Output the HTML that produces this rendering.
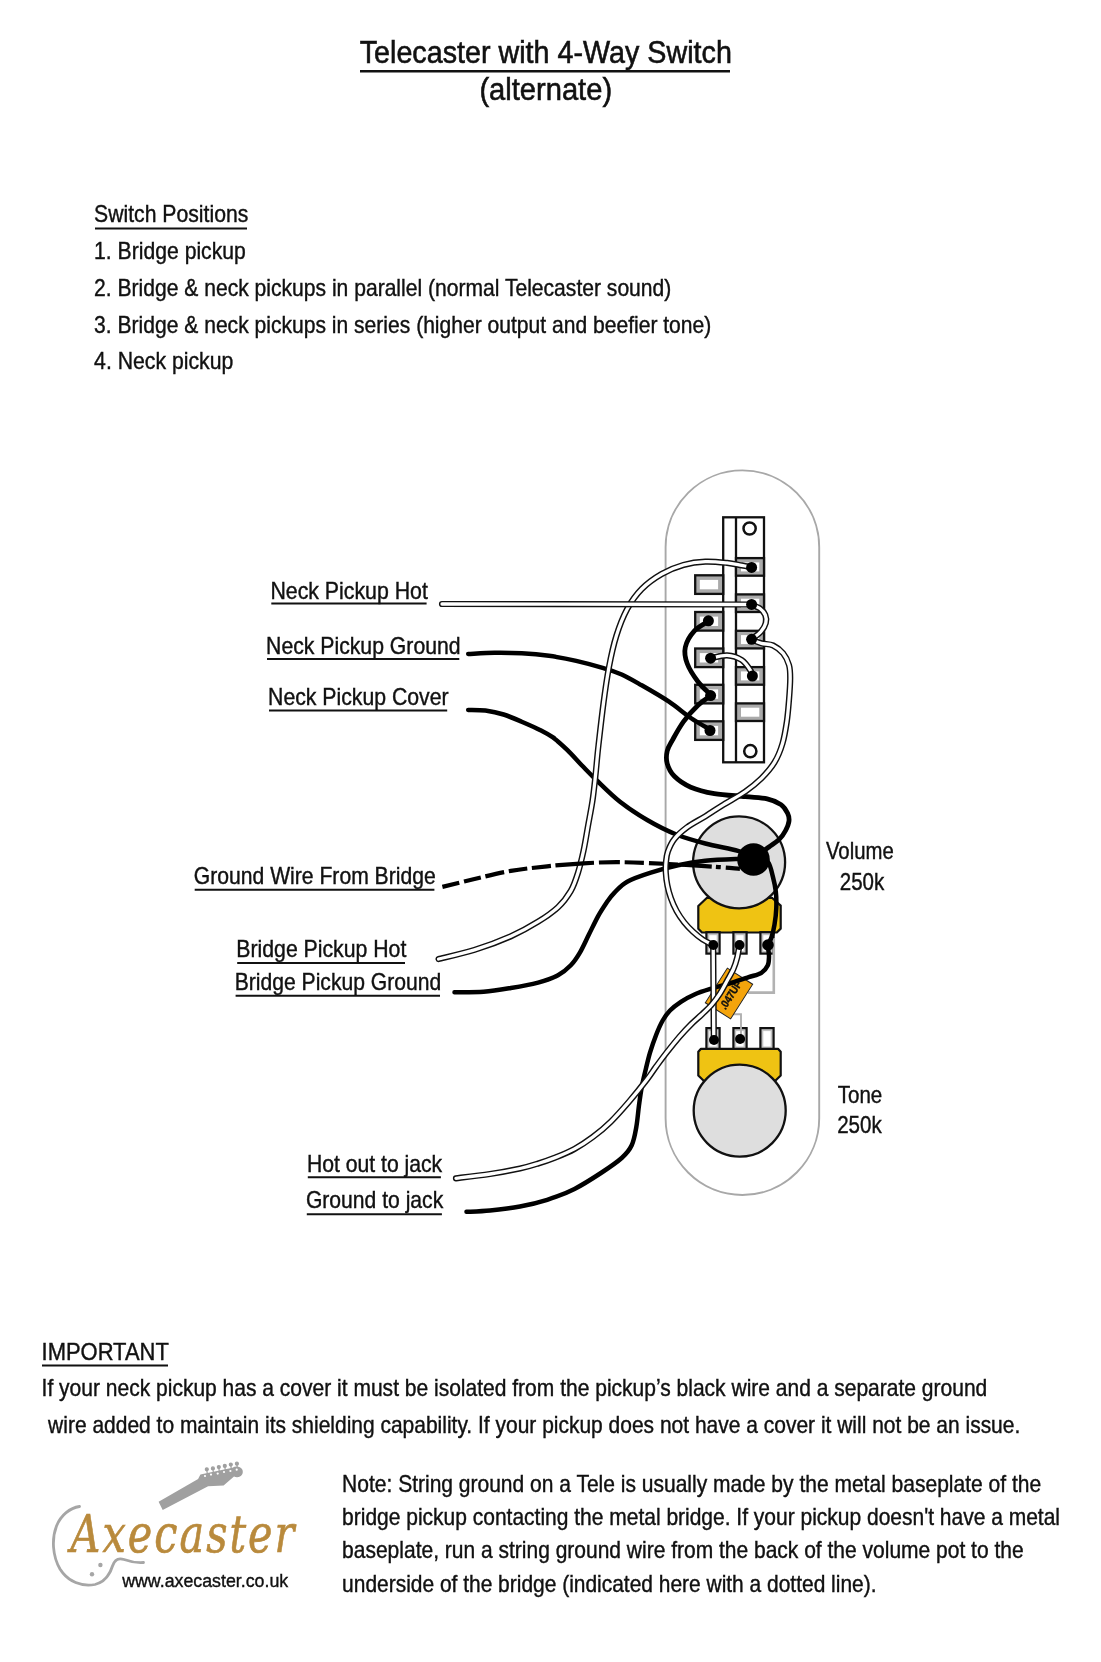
<!DOCTYPE html>
<html><head><meta charset="utf-8"><title>Telecaster with 4-Way Switch (alternate)</title>
<style>
html,body{margin:0;padding:0;background:#fff;}
svg{display:block;font-family:'Liberation Sans', Arial, sans-serif;fill:#111;}
text{stroke:#111;stroke-width:.4px;}
</style></head><body>
<svg width="1101" height="1662" viewBox="0 0 1101 1662" style="will-change:transform">
<text x="359.7" y="63.0" font-size="31.6" textLength="372.2" lengthAdjust="spacingAndGlyphs" text-anchor="start" style="stroke-width:.6px">Telecaster with 4-Way Switch</text>
<line x1="360.0" y1="71.3" x2="730.0" y2="71.3" stroke="#111" stroke-width="2.5"/>
<text x="479.4" y="100.0" font-size="31.6" textLength="132.7" lengthAdjust="spacingAndGlyphs" text-anchor="start" style="stroke-width:.6px">(alternate)</text>
<text x="94.1" y="222.4" font-size="23.4" textLength="154.2" lengthAdjust="spacingAndGlyphs" text-anchor="start" >Switch Positions</text>
<line x1="95.0" y1="228.6" x2="247.0" y2="228.6" stroke="#111" stroke-width="2"/>
<text x="94.1" y="259.3" font-size="23.4" textLength="151.7" lengthAdjust="spacingAndGlyphs" text-anchor="start" >1. Bridge pickup</text>
<text x="94.1" y="295.6" font-size="23.4" textLength="577.2" lengthAdjust="spacingAndGlyphs" text-anchor="start" >2. Bridge &amp; neck pickups in parallel (normal Telecaster sound)</text>
<text x="94.1" y="332.8" font-size="23.4" textLength="617.2" lengthAdjust="spacingAndGlyphs" text-anchor="start" >3. Bridge &amp; neck pickups in series (higher output and beefier tone)</text>
<text x="94.1" y="369.0" font-size="23.4" textLength="139.2" lengthAdjust="spacingAndGlyphs" text-anchor="start" >4. Neck pickup</text>
<text x="270.4" y="598.6" font-size="23.4" textLength="157.5" lengthAdjust="spacingAndGlyphs" text-anchor="start" >Neck Pickup Hot</text>
<line x1="271.3" y1="603.6" x2="426.6" y2="603.6" stroke="#111" stroke-width="2"/>
<text x="266.1" y="654.2" font-size="23.4" textLength="194.5" lengthAdjust="spacingAndGlyphs" text-anchor="start" >Neck Pickup Ground</text>
<line x1="267.0" y1="659.0" x2="459.3" y2="659.0" stroke="#111" stroke-width="2"/>
<text x="268.1" y="705.2" font-size="23.4" textLength="180.4" lengthAdjust="spacingAndGlyphs" text-anchor="start" >Neck Pickup Cover</text>
<line x1="269.0" y1="710.5" x2="447.2" y2="710.5" stroke="#111" stroke-width="2"/>
<text x="193.8" y="884.1" font-size="23.4" textLength="241.9" lengthAdjust="spacingAndGlyphs" text-anchor="start" >Ground Wire From Bridge</text>
<line x1="194.7" y1="889.8" x2="434.4" y2="889.8" stroke="#111" stroke-width="2"/>
<text x="236.3" y="957.1" font-size="23.4" textLength="170.0" lengthAdjust="spacingAndGlyphs" text-anchor="start" >Bridge Pickup Hot</text>
<line x1="237.2" y1="963.0" x2="405.0" y2="963.0" stroke="#111" stroke-width="2"/>
<text x="234.7" y="989.8" font-size="23.4" textLength="206.6" lengthAdjust="spacingAndGlyphs" text-anchor="start" >Bridge Pickup Ground</text>
<line x1="235.6" y1="995.8" x2="440.0" y2="995.8" stroke="#111" stroke-width="2"/>
<text x="306.9" y="1171.7" font-size="23.4" textLength="135.3" lengthAdjust="spacingAndGlyphs" text-anchor="start" >Hot out to jack</text>
<line x1="307.8" y1="1177.3" x2="440.9" y2="1177.3" stroke="#111" stroke-width="2"/>
<text x="305.9" y="1208.3" font-size="23.4" textLength="137.3" lengthAdjust="spacingAndGlyphs" text-anchor="start" >Ground to jack</text>
<line x1="306.8" y1="1214.3" x2="441.9" y2="1214.3" stroke="#111" stroke-width="2"/>
<text x="825.9" y="859.3" font-size="23.4" textLength="67.8" lengthAdjust="spacingAndGlyphs" text-anchor="start" >Volume</text>
<text x="839.8" y="889.5" font-size="23.4" textLength="44.5" lengthAdjust="spacingAndGlyphs" text-anchor="start" >250k</text>
<text x="837.8" y="1102.5" font-size="23.4" textLength="44.5" lengthAdjust="spacingAndGlyphs" text-anchor="start" >Tone</text>
<text x="837.2" y="1133.0" font-size="23.4" textLength="44.6" lengthAdjust="spacingAndGlyphs" text-anchor="start" >250k</text>
<text x="41.6" y="1360.0" font-size="23.4" textLength="127.2" lengthAdjust="spacingAndGlyphs" text-anchor="start" >IMPORTANT</text>
<line x1="42.0" y1="1365.6" x2="168.0" y2="1365.6" stroke="#111" stroke-width="2"/>
<text x="41.6" y="1396.0" font-size="23.4" textLength="945.7" lengthAdjust="spacingAndGlyphs" text-anchor="start" >If your neck pickup has a cover it must be isolated from the pickup’s black wire and a separate ground</text>
<text x="48.1" y="1432.5" font-size="23.4" textLength="972.2" lengthAdjust="spacingAndGlyphs" text-anchor="start" >wire added to maintain its shielding capability. If your pickup does not have a cover it will not be an issue.</text>
<text x="342.1" y="1492.2" font-size="23.4" textLength="699.0" lengthAdjust="spacingAndGlyphs" text-anchor="start" >Note: String ground on a Tele is usually made by the metal baseplate of the</text>
<text x="342.1" y="1524.6" font-size="23.4" textLength="717.9" lengthAdjust="spacingAndGlyphs" text-anchor="start" >bridge pickup contacting the metal bridge. If your pickup doesn't have a metal</text>
<text x="342.1" y="1558.0" font-size="23.4" textLength="681.5" lengthAdjust="spacingAndGlyphs" text-anchor="start" >baseplate, run a string ground wire from the back of the volume pot to the</text>
<text x="342.1" y="1591.7" font-size="23.4" textLength="534.4" lengthAdjust="spacingAndGlyphs" text-anchor="start" >underside of the bridge (indicated here with a dotted line).</text>
<rect x="665.6" y="470.4" width="153.6" height="724.6" rx="76.8" ry="76.8" fill="#fff" stroke="#a8a8a8" stroke-width="1.9"/>
<rect x="723.2" y="517.3" width="40.8" height="245" fill="#fff" stroke="#111" stroke-width="2.3"/>
<line x1="736" y1="517.3" x2="736" y2="762.3" stroke="#111" stroke-width="2.3"/>
<circle cx="749.6" cy="528.5" r="6.1" fill="#fff" stroke="#111" stroke-width="2.5"/>
<circle cx="750.3" cy="751.2" r="6.1" fill="#fff" stroke="#111" stroke-width="2.5"/>
<rect x="736" y="558.1" width="28" height="17.6" fill="#aaa" stroke="#111" stroke-width="2.3"/>
<rect x="741" y="562.4" width="18.3" height="9" fill="#fff"/>
<rect x="736" y="594.4" width="28" height="17.6" fill="#aaa" stroke="#111" stroke-width="2.3"/>
<rect x="741" y="598.7" width="18.3" height="9" fill="#fff"/>
<rect x="736" y="630.8" width="28" height="17.6" fill="#aaa" stroke="#111" stroke-width="2.3"/>
<rect x="741" y="635.1" width="18.3" height="9" fill="#fff"/>
<rect x="736" y="667.1" width="28" height="17.6" fill="#aaa" stroke="#111" stroke-width="2.3"/>
<rect x="741" y="671.4" width="18.3" height="9" fill="#fff"/>
<rect x="736" y="703.4" width="28" height="17.6" fill="#aaa" stroke="#111" stroke-width="2.3"/>
<rect x="741" y="707.7" width="18.3" height="9" fill="#fff"/>
<rect x="695.2" y="575.3" width="28" height="18.6" fill="#aaa" stroke="#111" stroke-width="2.3"/>
<rect x="699.8" y="579.9" width="18.3" height="9.4" fill="#fff"/>
<rect x="695.2" y="612.0" width="28" height="18.6" fill="#aaa" stroke="#111" stroke-width="2.3"/>
<rect x="699.8" y="616.6" width="18.3" height="9.4" fill="#fff"/>
<rect x="695.2" y="648.5" width="28" height="18.6" fill="#aaa" stroke="#111" stroke-width="2.3"/>
<rect x="699.8" y="653.1" width="18.3" height="9.4" fill="#fff"/>
<rect x="695.2" y="684.8" width="28" height="18.6" fill="#aaa" stroke="#111" stroke-width="2.3"/>
<rect x="699.8" y="689.4" width="18.3" height="9.4" fill="#fff"/>
<rect x="695.2" y="721.3" width="28" height="18.6" fill="#aaa" stroke="#111" stroke-width="2.3"/>
<rect x="699.8" y="725.9" width="18.3" height="9.4" fill="#fff"/>
<path d="M707,897.8 L772,897.8 L780.7,905.6 L780.7,928.6 L776.8,932.5 L702,932.5 L698.3,928.8 L698.3,906 Z" fill="#efc313" stroke="#111" stroke-width="2.2" stroke-linejoin="round"/>
<circle cx="739.1" cy="862.3" r="46" fill="#dedede" stroke="#111" stroke-width="2.3"/>
<rect x="706.4" y="932.2" width="13.2" height="21.4" fill="#c4c4c4" stroke="#111" stroke-width="2.2"/>
<rect x="709.3" y="935.2" width="7.4" height="15.8" fill="#fff"/>
<rect x="733.4" y="932.2" width="13.2" height="21.4" fill="#c4c4c4" stroke="#111" stroke-width="2.2"/>
<rect x="736.2" y="935.2" width="7.4" height="15.8" fill="#fff"/>
<rect x="760.4" y="932.2" width="13.2" height="21.4" fill="#c4c4c4" stroke="#111" stroke-width="2.2"/>
<rect x="763.3" y="935.2" width="7.4" height="15.8" fill="#fff"/>
<rect x="706.4" y="1028.1" width="13.2" height="21.0" fill="#c4c4c4" stroke="#111" stroke-width="2.2"/>
<rect x="709.3" y="1031.1" width="7.4" height="15.4" fill="#fff"/>
<rect x="733.4" y="1028.1" width="13.2" height="21.0" fill="#c4c4c4" stroke="#111" stroke-width="2.2"/>
<rect x="736.2" y="1031.1" width="7.4" height="15.4" fill="#fff"/>
<rect x="760.4" y="1028.1" width="13.2" height="21.0" fill="#c4c4c4" stroke="#111" stroke-width="2.2"/>
<rect x="763.3" y="1031.1" width="7.4" height="15.4" fill="#fff"/>
<path d="M701,1048.8 L778,1048.8 L780.7,1051.8 L780.7,1075.5 L773.5,1082.5 L705.5,1082.5 L698.3,1075.5 L698.3,1051.8 Z" fill="#efc313" stroke="#111" stroke-width="2.2" stroke-linejoin="round"/>
<circle cx="739.7" cy="1110.6" r="46" fill="#dedede" stroke="#111" stroke-width="2.3"/>
<path d="M773.8,938 L773.8,992.6 L748,992.6" fill="none" stroke="#b2b2b2" stroke-width="2.6"/>
<path d="M733,1014.3 L741,1014.3 L741,1039" fill="none" stroke="#b0b0b0" stroke-width="1.9"/>
<g transform="translate(729,993.5) rotate(-57.5)"><rect x="-20.5" y="-15" width="41" height="30" fill="#f4a40c" stroke="#222" stroke-width="1"/><text x="-16" y="6" font-size="11" font-weight="bold" textLength="31" lengthAdjust="spacingAndGlyphs" fill="#111">.047UF</text></g>
<path d="M468.2,709.9 C471.1,710.0 479.5,709.7 485.4,710.5 C491.3,711.3 497.6,712.6 503.6,714.5 C509.7,716.4 515.7,719.1 521.7,721.7 C527.8,724.3 534.8,727.3 539.9,729.9 C545.0,732.5 548.0,733.9 552.6,737.2 C557.2,740.5 562.4,745.2 567.2,749.9 C572.1,754.6 576.9,760.3 581.7,765.3 C586.6,770.3 589.9,773.9 596.3,780.0 C602.7,786.1 611.5,795.1 620.0,801.8 C628.5,808.5 637.8,814.5 647.2,820.0 C656.6,825.5 666.6,830.6 676.3,834.5 C686.0,838.4 695.0,840.8 705.3,843.5 C715.6,846.2 730.2,848.7 738.0,850.8 C745.8,852.9 749.7,855.1 752.0,856.0" fill="none" stroke="#000" stroke-width="4.5" stroke-linejoin="round"  stroke-linecap="round"/>
<path d="M454.5,992.2 C459.4,992.1 474.2,992.4 483.6,991.7 C493.0,991.0 501.7,989.5 510.8,988.0 C519.9,986.5 530.2,984.7 538.1,982.6 C546.0,980.5 552.5,978.2 558.0,975.3 C563.5,972.4 567.1,969.1 570.8,965.3 C574.4,961.5 576.9,957.7 579.9,952.6 C582.9,947.5 585.9,940.5 588.9,934.5 C591.9,928.5 595.0,921.8 598.0,916.3 C601.0,910.8 604.4,905.8 607.1,901.8 C609.9,897.8 611.1,896.0 614.5,892.6 C617.9,889.2 621.2,885.0 627.2,881.7 C633.2,878.4 642.3,875.3 650.8,872.6 C659.3,869.9 668.9,867.3 678.0,865.3 C687.1,863.3 695.3,861.8 705.3,860.8 C715.3,859.8 730.2,859.3 738.0,859.0 C745.8,858.7 749.7,859.0 752.0,859.0" fill="none" stroke="#000" stroke-width="4.5" stroke-linejoin="round"  stroke-linecap="round"/>
<path d="M468.2,654.0 C472.6,653.8 485.6,652.8 494.5,652.7 C503.4,652.6 512.6,652.7 521.7,653.2 C530.8,653.7 539.9,654.5 549.0,655.8 C558.1,657.1 567.1,658.8 576.2,660.9 C585.3,663.0 595.9,665.8 603.5,668.1 C611.1,670.4 615.3,671.6 621.7,674.5 C628.1,677.4 633.8,680.8 641.7,685.3 C649.6,689.8 660.8,696.2 669.0,701.7 C677.2,707.2 683.9,713.3 690.8,718.0 C697.7,722.7 707.1,727.8 710.4,729.8" fill="none" stroke="#000" stroke-width="4.5" stroke-linejoin="round"  stroke-linecap="round"/>
<path d="M708.6,621.2 C706.2,622.8 698.3,626.5 694.4,630.8 C690.5,635.1 686.5,641.8 685.3,647.2 C684.1,652.7 685.1,657.8 687.2,663.5 C689.3,669.2 694.0,676.4 698.0,681.7 C702.0,687.0 709.1,693.0 711.3,695.3" fill="none" stroke="#000" stroke-width="4.8" stroke-linejoin="round"  stroke-linecap="round"/>
<path d="M711.3,695.3 C709.1,697.0 702.6,700.9 698.0,705.3 C693.4,709.7 687.7,715.9 683.5,721.6 C679.3,727.4 675.3,734.9 672.6,739.8 C669.9,744.7 668.1,747.0 667.2,751.0 C666.3,755.0 666.0,759.4 667.2,763.6 C668.4,767.8 670.5,772.4 674.4,776.3 C678.3,780.2 684.1,784.3 690.8,787.2 C697.5,790.1 705.3,792.0 714.4,793.6 C723.5,795.2 736.6,795.7 745.4,796.6 C754.2,797.5 761.3,797.5 767.2,798.8 C773.1,800.1 777.6,802.2 781.0,804.6 C784.4,807.0 786.3,810.6 787.6,813.3 C788.9,816.0 789.3,818.1 789.0,821.0 C788.7,823.9 787.2,827.4 785.6,830.5 C784.0,833.6 782.0,836.6 779.2,839.4 C776.4,842.1 773.0,844.1 769.0,847.0 C765.0,849.9 757.3,855.3 755.0,857.0" fill="none" stroke="#000" stroke-width="4.8" stroke-linejoin="round"  stroke-linecap="round"/>
<path d="M757.0,856.0 C758.8,857.0 765.4,858.6 768.0,862.0 C770.6,865.4 771.5,871.4 772.8,876.3 C774.1,881.2 775.2,886.3 775.8,891.6 C776.4,896.9 776.5,902.5 776.3,908.0 C776.1,913.5 775.3,919.7 774.5,924.6 C773.7,929.5 772.6,933.9 771.5,937.3 C770.4,940.7 768.5,941.8 768.1,945.0 C767.7,948.2 769.1,953.0 769.0,956.4 C768.9,959.8 769.0,962.8 767.7,965.5 C766.4,968.2 764.6,970.8 761.4,972.8 C758.2,974.8 753.8,975.5 748.7,977.2 C743.6,978.9 737.2,981.1 730.9,983.0 C724.6,984.9 716.9,986.9 710.8,988.8 C704.7,990.7 699.5,992.3 694.5,994.5 C689.5,996.7 685.0,999.1 680.9,1001.8 C676.8,1004.5 673.0,1007.4 670.0,1010.5 C667.0,1013.6 665.0,1016.5 662.7,1020.5 C660.4,1024.5 658.4,1029.1 656.3,1034.5 C654.2,1039.9 651.8,1046.7 650.0,1052.7 C648.2,1058.8 646.8,1065.0 645.4,1070.8 C644.0,1076.5 642.8,1081.5 641.7,1087.2 C640.6,1093.0 639.9,1098.7 639.0,1105.3 C638.1,1111.9 637.5,1120.4 636.3,1127.1 C635.1,1133.8 634.1,1140.1 631.7,1145.3 C629.3,1150.5 626.7,1153.5 621.7,1158.0 C616.7,1162.5 609.6,1167.3 601.7,1172.5 C593.8,1177.7 583.6,1184.4 574.5,1188.9 C565.4,1193.5 556.3,1196.9 547.2,1199.8 C538.1,1202.7 529.5,1204.7 520.0,1206.5 C510.5,1208.3 498.9,1209.6 490.0,1210.5 C481.1,1211.4 470.4,1211.6 466.5,1211.8" fill="none" stroke="#000" stroke-width="4.5" stroke-linejoin="round"  stroke-linecap="round"/>
<path d="M438.6,959.0 C444.6,957.5 462.5,953.7 474.5,949.9 C486.5,946.1 500.2,941.0 510.8,936.3 C521.4,931.6 530.2,926.6 538.1,921.7 C546.0,916.9 552.5,912.3 558.0,907.2 C563.5,902.1 567.5,896.6 570.8,890.9 C574.1,885.1 575.9,879.4 578.0,872.7 C580.1,866.0 581.8,858.7 583.5,850.9 C585.2,843.1 586.5,834.5 588.0,826.0 C589.5,817.5 591.4,808.3 592.6,800.0 C593.8,791.7 594.4,785.5 595.4,776.3 C596.4,767.1 597.1,757.2 598.5,745.0 C599.9,732.8 601.8,716.0 603.5,703.0 C605.2,690.0 606.9,678.2 609.0,667.0 C611.1,655.8 613.3,645.7 616.3,636.0 C619.3,626.3 623.0,616.8 627.2,609.0 C631.4,601.2 636.0,594.8 641.7,589.0 C647.5,583.2 654.7,578.0 661.7,574.0 C668.7,570.0 676.2,566.9 683.5,564.9 C690.8,562.9 698.0,562.0 705.3,561.7 C712.6,561.4 721.0,562.3 727.1,562.9 C733.2,563.5 737.7,564.7 741.7,565.4 C745.7,566.1 749.7,566.9 751.3,567.2" fill="none" stroke="#111" stroke-width="6.2" stroke-linecap="round" stroke-linejoin="round"/>
<path d="M438.6,959.0 C444.6,957.5 462.5,953.7 474.5,949.9 C486.5,946.1 500.2,941.0 510.8,936.3 C521.4,931.6 530.2,926.6 538.1,921.7 C546.0,916.9 552.5,912.3 558.0,907.2 C563.5,902.1 567.5,896.6 570.8,890.9 C574.1,885.1 575.9,879.4 578.0,872.7 C580.1,866.0 581.8,858.7 583.5,850.9 C585.2,843.1 586.5,834.5 588.0,826.0 C589.5,817.5 591.4,808.3 592.6,800.0 C593.8,791.7 594.4,785.5 595.4,776.3 C596.4,767.1 597.1,757.2 598.5,745.0 C599.9,732.8 601.8,716.0 603.5,703.0 C605.2,690.0 606.9,678.2 609.0,667.0 C611.1,655.8 613.3,645.7 616.3,636.0 C619.3,626.3 623.0,616.8 627.2,609.0 C631.4,601.2 636.0,594.8 641.7,589.0 C647.5,583.2 654.7,578.0 661.7,574.0 C668.7,570.0 676.2,566.9 683.5,564.9 C690.8,562.9 698.0,562.0 705.3,561.7 C712.6,561.4 721.0,562.3 727.1,562.9 C733.2,563.5 737.7,564.7 741.7,565.4 C745.7,566.1 749.7,566.9 751.3,567.2" fill="none" stroke="#fff" stroke-width="3.3" stroke-linecap="round" stroke-linejoin="round"/>
<path d="M442.4,886.9 C447.8,885.6 463.1,881.7 474.5,879.0 C485.9,876.3 498.7,873.0 510.8,870.9 C522.9,868.8 535.1,867.6 547.2,866.3 C559.3,865.0 571.4,864.0 583.5,863.3 C595.6,862.6 605.5,862.1 619.8,862.2 C634.0,862.3 654.8,863.3 669.0,864.0 C683.2,864.7 695.9,865.6 705.0,866.2 C714.1,866.8 717.7,867.0 723.5,867.4 C729.3,867.8 737.2,868.6 740.0,868.8" fill="none" stroke="#000" stroke-width="4.2" stroke-linejoin="round" stroke-dasharray="17.4 4.8 17.5 4.7 19.0 4.8 18.7 4.6 19.2 4.5 38.6 5.0 21.0 5.0 19.0 5.0 29.0 4.3 29.6 4.2 5.0 5.0 14.1 1000.0"/>
<path d="M442,604 L751.3,604.5" fill="none" stroke="#111" stroke-width="6.2" stroke-linecap="round" stroke-linejoin="round"/>
<path d="M442,604 L751.3,604.5" fill="none" stroke="#fff" stroke-width="3.3" stroke-linecap="round" stroke-linejoin="round"/>
<path d="M751.3,604.5 C752.8,605.2 757.7,606.8 760.0,608.5 C762.3,610.2 764.3,612.6 765.3,615.0 C766.3,617.4 766.5,620.2 765.8,623.0 C765.1,625.8 763.4,628.7 761.0,631.5 C758.6,634.3 752.8,638.2 751.2,639.6" fill="none" stroke="#111" stroke-width="6.2" stroke-linecap="round" stroke-linejoin="round"/>
<path d="M751.3,604.5 C752.8,605.2 757.7,606.8 760.0,608.5 C762.3,610.2 764.3,612.6 765.3,615.0 C766.3,617.4 766.5,620.2 765.8,623.0 C765.1,625.8 763.4,628.7 761.0,631.5 C758.6,634.3 752.8,638.2 751.2,639.6" fill="none" stroke="#fff" stroke-width="3.3" stroke-linecap="round" stroke-linejoin="round"/>
<path d="M751.2,639.6 C752.9,640.2 757.8,642.3 761.4,643.3 C765.0,644.3 769.4,643.7 773.0,645.4 C776.6,647.1 780.5,650.1 783.2,653.4 C785.9,656.7 787.8,660.9 789.0,665.0 C790.2,669.1 790.2,672.3 790.2,678.1 C790.2,683.9 789.6,692.6 789.0,699.9 C788.4,707.2 787.9,714.4 786.8,721.7 C785.7,729.0 784.5,736.7 782.5,743.5 C780.5,750.3 778.0,756.6 774.5,762.4 C771.0,768.2 766.2,773.5 761.4,778.4 C756.5,783.2 751.7,787.1 745.4,791.5 C739.1,795.9 730.3,800.5 723.6,804.6 C716.9,808.7 711.4,812.5 705.3,816.3 C699.2,820.1 692.4,823.4 687.2,827.2 C682.1,831.0 677.6,835.0 674.4,839.0 C671.2,843.0 669.3,847.7 667.9,851.5 C666.5,855.3 666.4,858.5 666.0,862.0 C665.6,865.5 665.6,868.8 665.8,872.7 C666.0,876.6 666.5,881.2 667.4,885.4 C668.2,889.6 669.4,893.9 670.9,898.1 C672.4,902.4 674.4,906.9 676.6,910.9 C678.8,914.9 681.5,918.8 684.2,922.3 C687.0,925.8 690.0,928.9 693.1,931.8 C696.2,934.7 699.4,937.3 702.7,939.5 C706.1,941.7 711.5,944.2 713.2,945.2" fill="none" stroke="#111" stroke-width="6.2" stroke-linecap="round" stroke-linejoin="round"/>
<path d="M751.2,639.6 C752.9,640.2 757.8,642.3 761.4,643.3 C765.0,644.3 769.4,643.7 773.0,645.4 C776.6,647.1 780.5,650.1 783.2,653.4 C785.9,656.7 787.8,660.9 789.0,665.0 C790.2,669.1 790.2,672.3 790.2,678.1 C790.2,683.9 789.6,692.6 789.0,699.9 C788.4,707.2 787.9,714.4 786.8,721.7 C785.7,729.0 784.5,736.7 782.5,743.5 C780.5,750.3 778.0,756.6 774.5,762.4 C771.0,768.2 766.2,773.5 761.4,778.4 C756.5,783.2 751.7,787.1 745.4,791.5 C739.1,795.9 730.3,800.5 723.6,804.6 C716.9,808.7 711.4,812.5 705.3,816.3 C699.2,820.1 692.4,823.4 687.2,827.2 C682.1,831.0 677.6,835.0 674.4,839.0 C671.2,843.0 669.3,847.7 667.9,851.5 C666.5,855.3 666.4,858.5 666.0,862.0 C665.6,865.5 665.6,868.8 665.8,872.7 C666.0,876.6 666.5,881.2 667.4,885.4 C668.2,889.6 669.4,893.9 670.9,898.1 C672.4,902.4 674.4,906.9 676.6,910.9 C678.8,914.9 681.5,918.8 684.2,922.3 C687.0,925.8 690.0,928.9 693.1,931.8 C696.2,934.7 699.4,937.3 702.7,939.5 C706.1,941.7 711.5,944.2 713.2,945.2" fill="none" stroke="#fff" stroke-width="3.3" stroke-linecap="round" stroke-linejoin="round"/>
<path d="M710.4,658.4 C713.2,657.9 721.9,655.0 727.1,655.3 C732.3,655.6 737.8,657.4 741.7,660.0 C745.6,662.6 749.0,668.1 750.7,670.8 C752.5,673.5 752.0,675.3 752.2,676.2" fill="none" stroke="#111" stroke-width="6.2" stroke-linecap="round" stroke-linejoin="round"/>
<path d="M710.4,658.4 C713.2,657.9 721.9,655.0 727.1,655.3 C732.3,655.6 737.8,657.4 741.7,660.0 C745.6,662.6 749.0,668.1 750.7,670.8 C752.5,673.5 752.0,675.3 752.2,676.2" fill="none" stroke="#fff" stroke-width="3.3" stroke-linecap="round" stroke-linejoin="round"/>
<path d="M713.2,945 L713.8,1040" fill="none" stroke="#111" stroke-width="6.2" stroke-linecap="round" stroke-linejoin="round"/>
<path d="M713.2,945 L713.8,1040" fill="none" stroke="#fff" stroke-width="3.3" stroke-linecap="round" stroke-linejoin="round"/>
<path d="M739.5,945.0 C739.1,947.1 738.2,953.6 737.2,957.6 C736.2,961.6 735.1,965.2 733.4,969.0 C731.7,972.8 729.5,976.4 727.2,980.5 C725.0,984.6 722.5,989.6 719.9,993.6 C717.3,997.6 714.8,1001.0 711.8,1004.5 C708.8,1008.0 705.3,1011.2 701.8,1014.5 C698.3,1017.8 694.7,1020.7 690.9,1024.5 C687.1,1028.3 683.0,1032.7 679.1,1037.2 C675.2,1041.8 671.0,1047.0 667.2,1051.8 C663.4,1056.6 659.6,1061.8 656.3,1066.3 C653.0,1070.8 651.8,1073.1 647.3,1079.0 C642.8,1084.9 635.1,1094.6 629.0,1101.7 C622.9,1108.8 616.8,1115.8 610.8,1121.7 C604.8,1127.6 598.8,1132.6 592.7,1137.1 C586.7,1141.6 580.6,1145.6 574.5,1148.9 C568.4,1152.2 562.3,1154.7 556.3,1157.1 C550.2,1159.5 544.2,1161.6 538.2,1163.5 C532.2,1165.4 528.0,1166.8 520.0,1168.5 C512.0,1170.2 500.7,1172.4 490.0,1174.0 C479.3,1175.6 461.7,1177.6 456.0,1178.3" fill="none" stroke="#111" stroke-width="6.2" stroke-linecap="round" stroke-linejoin="round"/>
<path d="M739.5,945.0 C739.1,947.1 738.2,953.6 737.2,957.6 C736.2,961.6 735.1,965.2 733.4,969.0 C731.7,972.8 729.5,976.4 727.2,980.5 C725.0,984.6 722.5,989.6 719.9,993.6 C717.3,997.6 714.8,1001.0 711.8,1004.5 C708.8,1008.0 705.3,1011.2 701.8,1014.5 C698.3,1017.8 694.7,1020.7 690.9,1024.5 C687.1,1028.3 683.0,1032.7 679.1,1037.2 C675.2,1041.8 671.0,1047.0 667.2,1051.8 C663.4,1056.6 659.6,1061.8 656.3,1066.3 C653.0,1070.8 651.8,1073.1 647.3,1079.0 C642.8,1084.9 635.1,1094.6 629.0,1101.7 C622.9,1108.8 616.8,1115.8 610.8,1121.7 C604.8,1127.6 598.8,1132.6 592.7,1137.1 C586.7,1141.6 580.6,1145.6 574.5,1148.9 C568.4,1152.2 562.3,1154.7 556.3,1157.1 C550.2,1159.5 544.2,1161.6 538.2,1163.5 C532.2,1165.4 528.0,1166.8 520.0,1168.5 C512.0,1170.2 500.7,1172.4 490.0,1174.0 C479.3,1175.6 461.7,1177.6 456.0,1178.3" fill="none" stroke="#fff" stroke-width="3.3" stroke-linecap="round" stroke-linejoin="round"/>
<circle cx="751.6" cy="567.4" r="5.5" fill="#000"/>
<circle cx="751.6" cy="604.4" r="5.5" fill="#000"/>
<circle cx="751.6" cy="639.3" r="5.5" fill="#000"/>
<circle cx="752.4" cy="676.0" r="5.5" fill="#000"/>
<circle cx="708.4" cy="620.8" r="5.5" fill="#000"/>
<circle cx="710.6" cy="658.2" r="5.5" fill="#000"/>
<circle cx="710.6" cy="695.6" r="5.5" fill="#000"/>
<circle cx="710.0" cy="730.5" r="5.5" fill="#000"/>
<circle cx="753.5" cy="859.5" r="16.3" fill="#000"/>
<circle cx="713.3" cy="945.0" r="5.0" fill="#000"/>
<circle cx="739.5" cy="945.0" r="5.0" fill="#000"/>
<circle cx="768.0" cy="945.0" r="5.8" fill="#000"/>
<circle cx="714.0" cy="1040.0" r="5.0" fill="#000"/>
<circle cx="740.1" cy="1039.0" r="5.0" fill="#000"/>

<g id="logo">
<path d="M79.5,1506.5 C70,1508 61,1515 56.5,1526 C51.5,1539 52.5,1556 60,1569 C68,1582 82,1587 95,1584.5 C105,1582 110,1574 112.5,1566 C114.5,1560 118,1557.5 124,1559.5 C131,1562 137,1563 143.5,1562.5" fill="none" stroke="#a6a6a6" stroke-width="2.8" stroke-linecap="round"/>
<circle cx="100.4" cy="1565" r="2.2" fill="#a6a6a6"/><circle cx="92" cy="1574.3" r="2.2" fill="#a6a6a6"/>
<path d="M158.6,1501.8 L198.1,1479.1 L200.4,1474.5 L232.5,1467.8 C235.5,1465.6 240.5,1466.3 242.4,1469.8 C243.8,1473.4 241.5,1477.4 237,1477.3 C235.8,1477.2 234.8,1476.9 234,1476.6 L223.6,1485.4 L208.1,1486.3 L162.7,1510 Z" fill="#a0a0a0"/>
<g stroke="#a0a0a0" stroke-width="1.2" fill="#a0a0a0">
<path d="M207.3,1474 L206.8,1469.5 M213.4,1473 L212.9,1468.6 M219.3,1471.8 L218.8,1467.3 M225.3,1470.6 L224.8,1466.1 M231.3,1469.4 L230.8,1464.8 M237.3,1468 L236.9,1463.9" fill="none"/>
<circle cx="206.8" cy="1469.3" r="1.5"/><circle cx="212.9" cy="1468.4" r="1.5"/><circle cx="218.8" cy="1467.1" r="1.5"/><circle cx="224.8" cy="1465.9" r="1.5"/><circle cx="230.8" cy="1464.6" r="1.5"/><circle cx="236.9" cy="1463.7" r="1.5"/>
</g>
<g fill="#fff"><circle cx="205" cy="1476" r="1.1"/><circle cx="211" cy="1474.6" r="1.1"/><circle cx="217.7" cy="1473.6" r="1.1"/><circle cx="224" cy="1472" r="1.1"/><circle cx="230.4" cy="1471" r="1.1"/><circle cx="236.7" cy="1469.7" r="1.1"/></g>
<g transform="translate(70.5,1551.8) scale(0.78,1)"><text x="0" y="0" font-family="'DejaVu Serif', 'Liberation Serif', serif" font-style="italic" font-size="53" fill="#b98a3c" style="stroke:#b98a3c;stroke-width:.7px" textLength="287" lengthAdjust="spacing">Axecaster</text></g>
<text x="122.2" y="1586.8" font-size="19.2" fill="#111" textLength="166" lengthAdjust="spacingAndGlyphs">www.axecaster.co.uk</text>
</g>
</svg>
</body></html>
